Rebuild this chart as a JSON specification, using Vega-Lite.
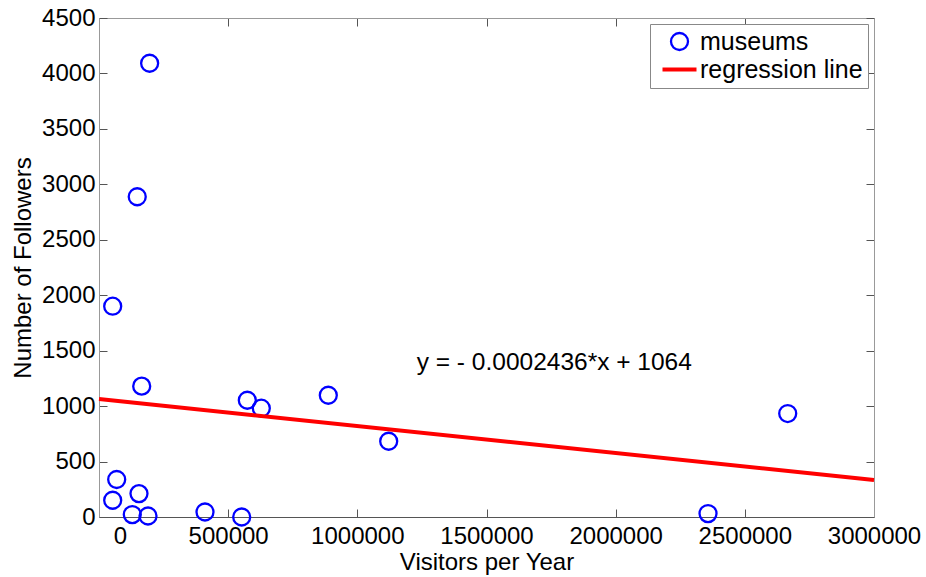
{
  "$schema": "https://vega.github.io/schema/vega-lite/v6.json",
  "width": 775,
  "height": 499,
  "autosize": {"type": "none"},
  "padding": {"left": 99, "top": 18, "right": 52, "bottom": 60},
  "background": "white",
  "config": {
    "view": {"stroke": null},
    "font": "Liberation Sans",
    "axis": {"grid": false, "labelFont": "Liberation Sans", "titleFont": "Liberation Sans", "labelColor": "black", "titleColor": "black", "titleFontWeight": "normal", "labelFontSize": 24, "titleFontSize": 24, "tickColor": "#555", "labelFlush": false, "labelOverlap": false},
    "legend": {"orient": "top-right", "offset": 6, "padding": 5, "strokeColor": "#888", "fillColor": "white", "labelFont": "Liberation Sans", "labelFontSize": 25, "labelColor": "black", "labelLimit": 400, "symbolSize": 289, "rowPadding": 2, "labelOffset": 8, "symbolOffset": 12}
  },
  "layer": [
    {
      "data": {"values": [
        {"visitors": 196000, "followers": 4092, "series": "museums"},
        {"visitors": 148000, "followers": 2888, "series": "museums"},
        {"visitors": 53000, "followers": 1901, "series": "museums"},
        {"visitors": 165300, "followers": 1180, "series": "museums"},
        {"visitors": 68500, "followers": 338, "series": "museums"},
        {"visitors": 53000, "followers": 151, "series": "museums"},
        {"visitors": 154800, "followers": 211, "series": "museums"},
        {"visitors": 128900, "followers": 22, "series": "museums"},
        {"visitors": 189700, "followers": 9, "series": "museums"},
        {"visitors": 410300, "followers": 45, "series": "museums"},
        {"visitors": 552400, "followers": 0, "series": "museums"},
        {"visitors": 574100, "followers": 1053, "series": "museums"},
        {"visitors": 628300, "followers": 981, "series": "museums"},
        {"visitors": 887600, "followers": 1098, "series": "museums"},
        {"visitors": 1121400, "followers": 683, "series": "museums"},
        {"visitors": 2357500, "followers": 31, "series": "museums"},
        {"visitors": 2666000, "followers": 933, "series": "museums"}
      ]},
      "mark": {"type": "point", "filled": false, "size": 289, "opacity": 1},
      "encoding": {
        "x": {"field": "visitors", "type": "quantitative",
          "scale": {"domain": [0, 3000000], "nice": false, "zero": false},
          "axis": {"orient": "bottom", "values": [0, 500000, 1000000, 1500000, 2000000, 2500000, 3000000], "format": "d", "title": "Visitors per Year", "tickSize": -8, "labelPadding": 15, "domainColor": "#555", "titlePadding": 2,
            "labelOffset": {"condition": {"test": "datum.value === 0", "value": 21}, "value": 0}}},
        "y": {"field": "followers", "type": "quantitative",
          "scale": {"domain": [0, 4500], "nice": false, "zero": false},
          "axis": {"orient": "left", "values": [0, 500, 1000, 1500, 2000, 2500, 3000, 3500, 4000, 4500], "format": "d", "title": "Number of Followers", "tickSize": -8, "labelPadding": 12, "domainColor": "#999", "titlePadding": 6}},
        "color": {"field": "series", "type": "nominal",
          "scale": {"domain": ["museums", "regression line"], "range": ["#0000ff", "#ff0000"]},
          "legend": {"title": null}},
        "shape": {"field": "series", "type": "nominal",
          "scale": {"domain": ["museums", "regression line"], "range": ["circle", "M-2,0L2,0"]},
          "legend": {"title": null}},
        "strokeWidth": {"field": "series", "type": "nominal",
          "scale": {"domain": ["museums", "regression line"], "range": [2.3, 4]},
          "legend": {"title": null}}
      }
    },
    {
      "data": {"values": [
        {"visitors": 0, "followers": 1064, "series": "regression line"},
        {"visitors": 3000000, "followers": 333.2, "series": "regression line"}
      ]},
      "mark": {"type": "line", "strokeWidth": 4},
      "encoding": {
        "x": {"field": "visitors", "type": "quantitative",
          "axis": {"orient": "top", "values": [0, 500000, 1000000, 1500000, 2000000, 2500000, 3000000], "labels": false, "title": null, "tickSize": -8, "domainColor": "#999"}},
        "y": {"field": "followers", "type": "quantitative",
          "axis": {"orient": "right", "values": [0, 500, 1000, 1500, 2000, 2500, 3000, 3500, 4000, 4500], "labels": false, "title": null, "tickSize": -8, "domainColor": "#999"}},
        "color": {"field": "series", "type": "nominal", "legend": {"title": null}}
      }
    },
    {
      "data": {"values": [
        {"visitors": 1229800, "followers": 1390, "label": "y = - 0.0002436*x + 1064"}
      ]},
      "mark": {"type": "text", "align": "left", "baseline": "middle", "fontSize": 24.5, "font": "Liberation Sans", "color": "black"},
      "encoding": {
        "x": {"field": "visitors", "type": "quantitative", "axis": null},
        "y": {"field": "followers", "type": "quantitative", "axis": null},
        "text": {"field": "label"}
      }
    }
  ],
  "resolve": {"axis": {"x": "independent", "y": "independent"}}
}
